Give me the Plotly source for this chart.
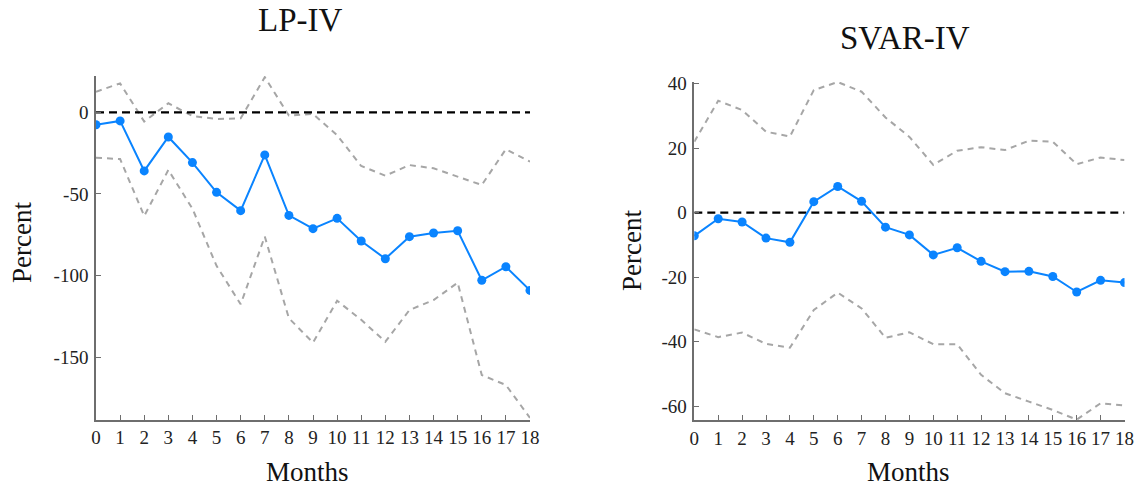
import plotly.graph_objects as go

# Horizon (months after the shock)
months = list(range(19))

# LP-IV: point estimate and confidence band (percent)
lp_irf = [-7.6, -5.3, -35.9, -15.1, -30.8, -49.0, -60.2, -26.1, -63.1, -71.2,
          -64.9, -78.8, -89.6, -76.1, -73.9, -72.5, -102.8, -94.5, -109.0]
lp_upper = [12.6, 17.7, -5.7, 5.5, -2.3, -4.1, -3.7, 21.5, -2.0, -1.0,
            -14.0, -32.9, -38.8, -32.3, -34.3, -39.4, -44.5, -22.6, -30.2]
lp_lower = [-27.8, -28.6, -63.5, -35.3, -59.0, -94.0, -117.5, -76.0, -126.0, -141.0,
            -115.3, -127.0, -140.4, -121.0, -114.9, -104.3, -160.8, -166.9, -187.0]

# SVAR-IV: point estimate and confidence band (percent)
svar_irf = [-7.2, -1.9, -2.9, -7.9, -9.2, 3.4, 8.1, 3.5, -4.5, -6.9,
            -13.1, -10.9, -15.1, -18.3, -18.2, -19.8, -24.6, -21.0, -21.7]
svar_upper = [22.0, 34.7, 31.8, 25.1, 23.6, 38.0, 40.5, 37.5, 29.5, 23.5,
              14.8, 19.2, 20.3, 19.4, 22.3, 22.0, 15.0, 17.1, 16.3]
svar_lower = [-36.2, -38.6, -37.2, -40.7, -41.9, -30.2, -24.8, -29.7, -38.8, -37.1,
              -40.8, -40.8, -50.3, -56.0, -58.6, -61.2, -64.2, -59.1, -59.8]

lp_yticks = [0, -50, -100, -150]
svar_yticks = [40, 20, 0, -20, -40, -60]

W, H = 1136, 489
FONT = "Liberation Serif"
BLUE = "#0a84ff"
BAND = "#a6a6a6"
AXIS = "#6e6e6e"


def px(x):
    return x / W


def py(y):
    return 1 - y / H


fig = go.Figure()

panels = [
    ("x", "y", lp_irf, lp_upper, lp_lower),
    ("x2", "y2", svar_irf, svar_upper, svar_lower),
]
for xa, ya, irf, up, lo in panels:
    for band in (up, lo):
        fig.add_trace(go.Scatter(
            x=months, y=band, xaxis=xa, yaxis=ya, mode="lines",
            line=dict(color=BAND, width=2, dash="6px,5px"),
            hoverinfo="skip", showlegend=False))
    fig.add_trace(go.Scatter(
        x=[0, 18], y=[0, 0], xaxis=xa, yaxis=ya, mode="lines",
        line=dict(color="black", width=2.2, dash="8px,5px"),
        hoverinfo="skip", showlegend=False))
    fig.add_trace(go.Scatter(
        x=months, y=irf, xaxis=xa, yaxis=ya, mode="lines+markers",
        line=dict(color=BLUE, width=2),
        marker=dict(color=BLUE, size=9),
        showlegend=False))

tick_font = dict(family=FONT, size=19, color="#222222")
common_x = dict(
    range=[0, 18], tickmode="array", tickvals=months,
    ticktext=[str(m) for m in months], ticks="inside", ticklen=5,
    tickcolor=AXIS, tickwidth=1.2, showline=True, linecolor=AXIS, linewidth=1.5,
    showgrid=False, zeroline=False, tickfont=tick_font, ticklabelstandoff=0,
    automargin=False,
)
common_y = dict(
    ticks="inside", ticklen=5, tickcolor=AXIS, tickwidth=1.2,
    showline=True, linecolor=AXIS, linewidth=1.5, showgrid=False,
    zeroline=False, tickfont=tick_font, tickmode="array", automargin=False,
    ticklabelstandoff=2,
)

fig.update_layout(
    width=W, height=H,
    margin=dict(l=0, r=0, t=0, b=0, autoexpand=False),
    paper_bgcolor="white", plot_bgcolor="white",
    xaxis=dict(domain=[px(96), px(530)], anchor="y", **common_x),
    yaxis=dict(domain=[py(419.5), py(76)], anchor="x", range=[-188, 22.2],
               tickvals=lp_yticks, ticktext=[str(v) for v in lp_yticks],
               **common_y),
    xaxis2=dict(domain=[px(694.3), px(1124.5)], anchor="y2", **common_x),
    yaxis2=dict(domain=[py(420), py(81.7)], anchor="x2", range=[-64.3, 40.6],
                tickvals=svar_yticks, ticktext=[str(v) for v in svar_yticks],
                **common_y),
)

label_font = dict(family=FONT, size=27, color="#111111")
title_font = dict(family=FONT, size=33, color="#111111")
annots = [
    ("LP-IV", 300, 20, title_font, 0),
    ("SVAR-IV", 905, 38, title_font, 0),
    ("Months", 307, 472, label_font, 0),
    ("Months", 908, 472, label_font, 0),
    ("Percent", 22, 243, label_font, -90),
    ("Percent", 632, 251, label_font, -90),
]
for text, x, y, f, ang in annots:
    fig.add_annotation(text=text, x=px(x), y=py(y), xref="paper", yref="paper",
                       xanchor="center", yanchor="middle", showarrow=False,
                       font=f, textangle=ang)

fig.write_html("out.html")
